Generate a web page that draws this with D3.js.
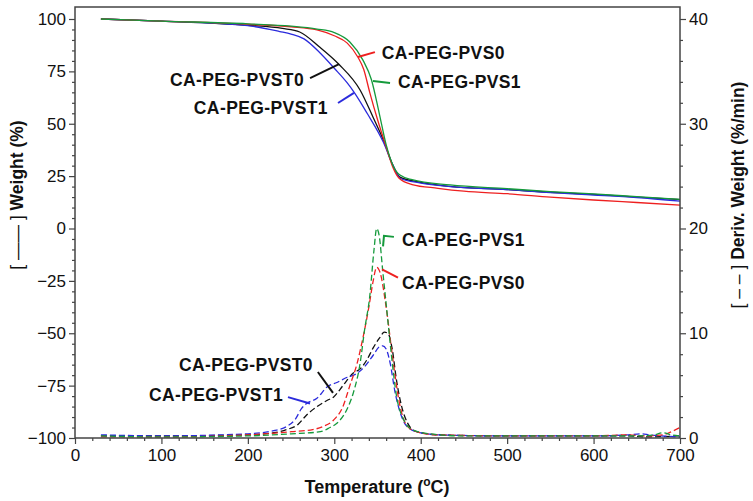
<!DOCTYPE html>
<html>
<head>
<meta charset="utf-8">
<script src="https://cdn.jsdelivr.net/npm/d3@7"></script>
<style>
  body { margin: 0; background: #fff; }
  text { font-family: "Liberation Sans", Arial, sans-serif; fill: #111; }
</style>
</head>
<body>
<div id="chart"></div>
<script>
// TGA weight curves, [temperature, weight %]
const wPVS0 = [[30,100],[100,99],[200,97.5],[250,96.3],[280,94.8],[300,92],[315,88.5],[327,82],[334,76],[341,65],[350,52],[360,39],[368,29],[375,24],[390,21],[420,19.2],[450,17.8],[500,16.6],[550,15],[600,13.6],[650,12.4],[700,11.2]];
const wPVS1 = [[30,100],[100,99],[200,97.7],[250,96.6],[280,95.2],[300,93.5],[318,89],[333,80.5],[343,71],[352,55],[360,40],[368,30],[376,25.5],[390,23.3],[434,20.8],[500,19],[550,17.6],[600,16.5],[650,15.2],[700,13.9]];
const wPVST0 = [[30,100],[100,99],[200,97],[240,95.5],[260,93.8],[283,86.6],[305,78.5],[330,66],[345,53],[357,42],[368,30],[376,24.5],[400,22],[434,20.1],[500,18.6],[550,17.3],[600,16.3],[650,15],[700,13.8]];
const wPVST1 = [[30,100],[100,99],[200,96.8],[237,94],[250,92.8],[265,90.5],[283,84],[300,76.5],[315,69.5],[323,65],[338,55],[357,41],[368,30],[376,24],[400,21.7],[434,20],[500,18.6],[550,17.1],[600,16],[650,14.8],[700,13.1]];

// DTG derivative curves, [temperature, %/min]
const dPVS0 = [[30,0.1],[100,0.1],[200,0.3],[250,0.6],[275,0.8],[287,1.1],[299,1.7],[310,3],[318,5],[326,7],[333,9.5],[340,12.5],[345,15],[349,16.3],[353,15.8],[360,12.5],[367,8],[375,3.5],[383,1.3],[395,0.6],[420,0.3],[500,0.2],[600,0.2],[640,0.3],[660,0.2],[680,0.3],[690,0.6],[700,1]];
const dPVS1 = [[30,0.2],[100,0.1],[200,0.2],[250,0.4],[284,0.6],[295,1],[303,1.4],[315,2.8],[322,4.3],[330,7.2],[335,10.3],[341,13.5],[346,18],[349,20],[352,19.3],[356,16],[361,12],[366,8],[372,4],[380,1.8],[390,0.8],[410,0.4],[450,0.2],[550,0.2],[650,0.2],[670,0.3],[680,0.5],[690,0.3],[700,0.2]];
const dPVST0 = [[30,0.2],[100,0.2],[200,0.3],[230,0.5],[245,0.8],[258,1.3],[268,2.2],[280,3],[292,3.6],[299,3.9],[310,5],[322,6.2],[330,6.6],[338,7.5],[345,8.6],[352,9.5],[358,10.1],[362,10],[367,8.5],[372,5.5],[378,3],[385,1.4],[395,0.6],[420,0.3],[500,0.2],[600,0.2],[640,0.2],[660,0.1],[700,0.2]];
const dPVST1 = [[30,0.3],[100,0.2],[200,0.4],[230,0.7],[245,1.1],[255,1.8],[262,2.8],[268,3.3],[280,3.8],[292,4.9],[303,5.3],[315,5.8],[325,6.1],[335,6.8],[345,7.9],[352,8.7],[356,8.8],[360,8.5],[365,7],[370,4.5],[376,2.5],[383,1.2],[395,0.6],[420,0.3],[500,0.2],[600,0.2],[640,0.3],[655,0.4],[665,0.3],[700,0.1]];

const names = ["CA-PEG-PVST0", "CA-PEG-PVST1", "CA-PEG-PVS0", "CA-PEG-PVS1"];
const colors = ["#111111", "#2b2bdc", "#ee2020", "#159a3c"];
const weights = [wPVST0, wPVST1, wPVS0, wPVS1];
const derivs = [dPVST0, dPVST1, dPVS0, dPVS1];

// tick values
const xTicks = d3.range(0, 701, 100);
const wTicks = d3.range(-100, 101, 25);
const dTicks = d3.range(0, 41, 10);

// label anchors (data units) : [name index, text T, text value, anchor, leader points]
const wLabels = [
  [2, 355, 80.9, "start", [[327.4,81.9],[347,84.2]]],
  [3, 373.7, 67.1, "start", [[344.8,70.4],[364.5,69.5]]],
  [0, 265, 68, "end", [[272,71.8],[305.5,78.5]]],
  [1, 292.7, 54.7, "end", [[304.3,59.9],[322.8,64.7]]]
];
const dLabels = [
  [3, 378.3, 18.3, "start", [[356.4,18.3],[357.5,19.3],[369,19.2]]],
  [2, 378.3, 14.2, "start", [[355.2,16.1],[373.7,15.3]]],
  [0, 275.4, 6.4, "end", [[281,6.3],[298.5,4.3]]],
  [1, 240.7, 3.5, "end", [[246.4,3.9],[271.9,3.3]]]
];

const width = 753, height = 501;
const frameTop = 7;
const svg = d3.select("#chart").append("svg").attr("width", width).attr("height", height);

const x = d3.scaleLinear().domain([0, 700]).range([75, 680]);
const yW = d3.scaleLinear().domain([-100, 100]).range([438, 19]);
const yD = d3.scaleLinear().domain([0, 40]).range([438, 19]);

// Curves
const lineW = d3.line().x(d => x(d[0])).y(d => yW(d[1])).curve(d3.curveMonotoneX);
const lineD = d3.line().x(d => x(d[0])).y(d => yD(d[1])).curve(d3.curveMonotoneX);

const curves = svg.append("g");
weights.forEach((s, i) => {
  curves.append("path").attr("d", lineW(s)).attr("fill", "none")
    .attr("stroke", colors[i]).attr("stroke-width", 1.3);
});
derivs.forEach((s, i) => {
  curves.append("path").attr("d", lineD(s)).attr("fill", "none")
    .attr("stroke", colors[i]).attr("stroke-width", 1.3).attr("stroke-dasharray", "6,3");
});

// Axes
const axisColor = "#444";
function styleAxis(g) {
  g.select(".domain").remove();
  g.selectAll("line").attr("stroke", axisColor).attr("stroke-width", 1.2);
  g.selectAll("text").style("font-size", "17px").attr("fill", "#111");
}
const fmt = d3.format("d");
svg.append("g").attr("transform", `translate(75,0)`)
  .call(d3.axisLeft(yW).tickValues(wTicks).tickSize(6).tickPadding(3).tickFormat(fmt)).call(styleAxis);
svg.append("g").attr("transform", `translate(75,0)`)
  .call(d3.axisLeft(yW).tickValues(d3.range(-100, 101, 5).filter(v => v % 25)).tickSize(3).tickFormat("")).call(styleAxis);
svg.append("g").attr("transform", `translate(680,0)`)
  .call(d3.axisRight(yD).tickValues(dTicks).tickSize(6).tickPadding(3).tickFormat(fmt)).call(styleAxis);
svg.append("g").attr("transform", `translate(680,0)`)
  .call(d3.axisRight(yD).tickValues(d3.range(0, 41, 2).filter(v => v % 10)).tickSize(3).tickFormat("")).call(styleAxis);
svg.append("g").attr("transform", `translate(0,438)`)
  .call(d3.axisBottom(x).tickValues(xTicks).tickSize(6).tickPadding(5).tickFormat(fmt)).call(styleAxis);
svg.append("g").attr("transform", `translate(0,438)`)
  .call(d3.axisBottom(x).tickValues(d3.range(0, 701, 20).filter(v => v % 100)).tickSize(3).tickFormat("")).call(styleAxis);

// Frame
svg.append("rect").attr("x", 75).attr("y", frameTop).attr("width", 605).attr("height", 438 - frameTop)
  .attr("fill", "none").attr("stroke", axisColor).attr("stroke-width", 1.5);

// Annotations
function annotate(list, ys) {
  list.forEach(([k, tx, tv, anchor, pts]) => {
    svg.append("path").attr("d", d3.line().x(d => x(d[0])).y(d => ys(d[1]))(pts))
      .attr("fill", "none").attr("stroke", colors[k]).attr("stroke-width", 2);
    svg.append("text").attr("x", x(tx)).attr("y", ys(tv)).attr("text-anchor", anchor)
      .style("font-size", "17.5px").style("font-weight", "bold").style("letter-spacing", "0.4px")
      .text(names[k]);
  });
}
annotate(wLabels, yW);
annotate(dLabels, yD);

// Axis titles
const xt = svg.append("text").attr("x", 377).attr("y", 493).attr("text-anchor", "middle")
  .style("font-size", "18px").style("font-weight", "bold");
xt.append("tspan").text("Temperature (");
xt.append("tspan").attr("baseline-shift", "super").style("font-size", "12px").text("o");
xt.append("tspan").text("C)");

const lt = svg.append("text").attr("transform", "translate(23,195) rotate(-90)").attr("text-anchor", "middle")
  .style("font-size", "17.5px");
lt.append("tspan").text("[ —— ] ");
lt.append("tspan").style("font-weight", "bold").text("Weight (%)");

const rt = svg.append("text").attr("transform", "translate(744,195) rotate(-90)").attr("text-anchor", "middle")
  .style("font-size", "17.5px");
rt.append("tspan").text("[ – – ] ");
rt.append("tspan").style("font-weight", "bold").text("Deriv. Weight (%/min)");
</script>
</body>
</html>
